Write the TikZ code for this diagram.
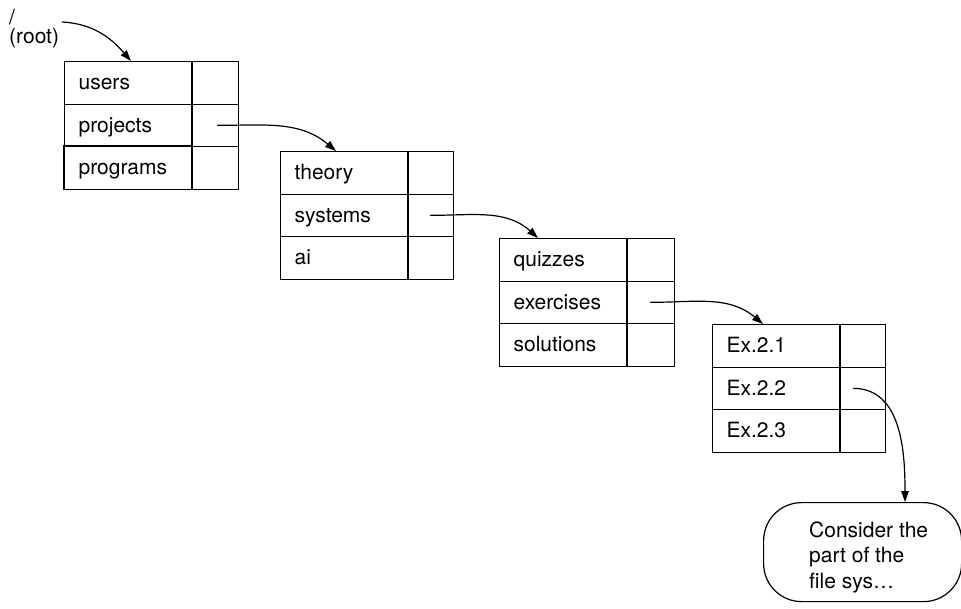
\documentclass[tikz,border=0pt]{standalone}
\usepackage{fontspec}
\setmainfont{TeX Gyre Heros}
\usetikzlibrary{arrows.meta,calc}

\tikzset{
  cellbase/.style={draw, line width=1.2pt, rectangle, inner sep=0pt,
    minimum height=42.5pt, anchor=north west},
  namecell/.style={cellbase, text width=99pt, inner xsep=14pt, align=left,
    text height=16pt, text depth=2pt},
  ptrcell/.style={cellbase, minimum width=#1},
  link/.style={line width=1.2pt, -{Triangle[length=11pt,width=7.5pt]}},
  notebox/.style={draw, line width=1.2pt, rectangle, rounded corners=38pt,
    minimum width=198pt, minimum height=99pt, anchor=north west, inner sep=0pt},
}

% one directory listing: prefix, left x, top y, pointer-cell width, entries
\newcommand{\dirlisting}[5]{%
  \foreach \itemtext [count=\k] in {#5} {
    \node[namecell] (#1-n\k) at (#2, {#3+(\k-1)*42.5}) {\itemtext};
    \node[ptrcell=#4] (#1-p\k) at (#1-n\k.north east) {};
  }%
}

\begin{document}
\begin{tikzpicture}[x=1pt, y=-1pt,
    every node/.style={font=\fontsize{21}{25.5}\selectfont}]
  \useasboundingbox (0,0) rectangle (961,608);
  \clip (0,0) rectangle (961,608);

  % root label (base anchor sits on the last line)
  \node[anchor=base west, align=left, inner sep=0pt] (root) at (9,43)
    {/\\[-6.5pt](root)};
  \coordinate (rootout) at (62,22);

  % directory listings
  \dirlisting{t1}{64}{61}{46pt}{users,projects,programs}
  \draw[line width=1.5pt] (t1-n3.north east) -- (t1-n3.north west)
    -- (t1-n3.south west) -- (t1-n3.south east);
  \dirlisting{t2}{280}{151}{45pt}{theory,systems,ai}
  \dirlisting{t3}{499}{238}{47pt}{quizzes,exercises,solutions}
  \dirlisting{t4}{712}{324}{45pt}{Ex.2.1,Ex.2.2,Ex.2.3}

  % note
  \node[notebox] (note) at (763,502) {};
  \node[anchor=base west, align=left, inner sep=0pt] (notetext) at (809,588)
    {Consider the\\part of the\\file sys…};

  % pointers
  \draw[link] (rootout) to[out=-3, in=131] ([xshift=67pt]t1-n1.north west);
  \draw[link] ([xshift=25pt]t1-p2.west) to[out=0, in=140] ([xshift=56pt]t2-n1.north west);
  \draw[link] ([xshift=22pt]t2-p2.west) to[out=0, in=138] ([xshift=39pt]t3-n1.north west);
  \draw[link] ([xshift=23pt]t3-p2.west) to[out=0, in=140] ([xshift=51pt]t4-n1.north west);
  \draw[link] ([xshift=13pt]t4-p2.west) to[out=0, in=90] ([xshift=142pt]note.north west);
\end{tikzpicture}
\end{document}
